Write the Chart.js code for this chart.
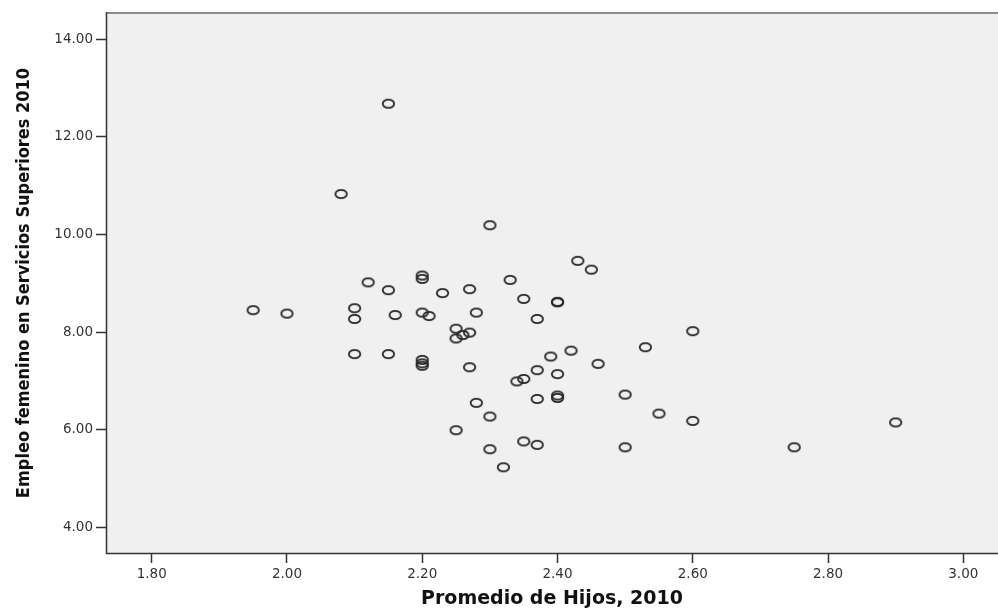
<!DOCTYPE html>
<html>
<head>
<meta charset="utf-8">
<title>Empleo femenino vs Promedio de Hijos</title>
<script src="https://cdn.jsdelivr.net/npm/chart.js@4/dist/chart.umd.min.js"></script>
<style>
    html, body { margin: 0; padding: 0; background: #ffffff; }
    #wrap { width: 998px; height: 612px; position: relative; }
</style>
</head>
<body>
<div id="wrap"><canvas id="scatterChart"></canvas></div>
<script>
// Promedio de Hijos, 2010 (eje X)
const hijos = [
    2.15, 2.08, 2.30, 1.95, 2.00, 2.10, 2.10, 2.12, 2.15, 2.16,
    2.20, 2.20, 2.20, 2.21, 2.23, 2.27, 2.28, 2.25, 2.25, 2.26,
    2.27, 2.10, 2.15, 2.20, 2.20, 2.20, 2.27, 2.33, 2.35, 2.40,
    2.40, 2.37, 2.43, 2.45, 2.34, 2.35, 2.37, 2.39, 2.42, 2.40,
    2.46, 2.53, 2.60, 2.40, 2.40, 2.37, 2.50, 2.28, 2.30, 2.55,
    2.60, 2.25, 2.35, 2.37, 2.30, 2.50, 2.32, 2.75, 2.90
];
// Empleo femenino en Servicios Superiores 2010 (eje Y)
const empleo = [
    12.68, 10.83, 10.19, 8.45, 8.38, 8.49, 8.27, 9.02, 8.86, 8.35,
    9.16, 9.09, 8.40, 8.33, 8.80, 8.88, 8.40, 8.07, 7.87, 7.94,
    7.99, 7.55, 7.55, 7.43, 7.36, 7.31, 7.28, 9.07, 8.68, 8.62,
    8.61, 8.27, 9.46, 9.28, 6.99, 7.04, 7.22, 7.50, 7.62, 7.14,
    7.35, 7.69, 8.02, 6.70, 6.65, 6.63, 6.72, 6.55, 6.27, 6.33,
    6.18, 5.99, 5.76, 5.69, 5.60, 5.64, 5.23, 5.64, 6.15
];
const xTicks = [1.80, 2.00, 2.20, 2.40, 2.60, 2.80, 3.00];
const yTicks = [4.00, 6.00, 8.00, 10.00, 12.00, 14.00];

const xTitle = 'Promedio de Hijos, 2010';
const yTitle = 'Empleo femenino en Servicios Superiores 2010';

// marcador: elipse hueca (como en el gráfico original, algo estirado)
function makeMarker() {
    const c = document.createElement('canvas');
    c.width = 15;
    c.height = 12;
    const g = c.getContext('2d');
    g.strokeStyle = '#262626';
    g.lineWidth = 1.8;
    g.beginPath();
    g.ellipse(7.5, 6, 5.7, 4.2, 0, 0, Math.PI * 2);
    g.stroke();
    return c;
}

// fondo gris del área de trazado y marco
const plotFrame = {
    id: 'plotFrame',
    beforeDraw(chart) {
        const { ctx, chartArea: a } = chart;
        ctx.save();
        ctx.fillStyle = '#ffffff';
        ctx.fillRect(0, 0, chart.width, chart.height);
        ctx.fillStyle = '#f0f0f0';
        ctx.fillRect(a.left, a.top, a.right - a.left, a.bottom - a.top);
        ctx.restore();
    },
    afterDraw(chart) {
        const { ctx, chartArea: a } = chart;
        ctx.save();
        ctx.strokeStyle = '#8c8c8c';
        ctx.lineWidth = 2;
        ctx.beginPath();
        ctx.moveTo(a.left, a.top + 1);
        ctx.lineTo(a.right, a.top + 1);
        ctx.stroke();
        ctx.strokeStyle = '#333333';
        ctx.lineWidth = 1.5;
        ctx.beginPath();
        ctx.moveTo(a.left + 0.5, a.top);
        ctx.lineTo(a.left + 0.5, a.bottom - 0.5);
        ctx.lineTo(a.right, a.bottom - 0.5);
        ctx.stroke();
        ctx.restore();
    }
};

const tickFont = { family: "'DejaVu Sans', sans-serif", size: 13.5 };

document.addEventListener('DOMContentLoaded', function() {
    const ctx = document.getElementById('scatterChart');
    const points = hijos.map((x, i) => ({ x: x, y: empleo[i] }));

    new Chart(ctx, {
        type: 'scatter',
        data: {
            datasets: [{
                label: yTitle,
                data: points,
                pointStyle: makeMarker(),
                pointRadius: 6,
                pointHoverRadius: 6
            }]
        },
        options: {
            responsive: true,
            maintainAspectRatio: false,
            animation: false,
            layout: {
                autoPadding: false, // sin margen extra por el radio de los puntos
                padding: { top: 12, right: 0, bottom: 0, left: 0 }
            },
            plugins: {
                legend: { display: false },
                tooltip: { enabled: false }
            },
            scales: {
                x: {
                    type: 'linear',
                    min: 1.7324,
                    max: 3.0513,
                    afterBuildTicks: s => { s.ticks = xTicks.map(v => ({ value: v })); },
                    afterFit: s => {
                        s.height = 58;
                        s.paddingLeft = 0;
                        s.paddingRight = 0;
                    },
                    border: { display: false },
                    grid: {
                        drawOnChartArea: false,
                        drawTicks: true,
                        tickLength: 9,
                        tickColor: '#333333',
                        tickWidth: 1.5
                    },
                    ticks: {
                        autoSkip: false,
                        maxRotation: 0,
                        padding: 3,
                        color: '#333333',
                        font: tickFont,
                        callback: v => Number(v).toFixed(2)
                    },
                    title: {
                        display: true,
                        text: xTitle,
                        color: '#111111',
                        padding: { top: 0, bottom: 2 },
                        font: { family: "'DejaVu Sans', sans-serif", size: 19, weight: 'bold' }
                    }
                },
                y: {
                    type: 'linear',
                    min: 3.453,
                    max: 14.56,
                    afterBuildTicks: s => { s.ticks = yTicks.map(v => ({ value: v })); },
                    afterFit: s => {
                        s.width = 106;
                        s.paddingTop = 0;
                        s.paddingBottom = 0;
                    },
                    border: { display: false },
                    grid: {
                        drawOnChartArea: false,
                        drawTicks: true,
                        tickLength: 10,
                        tickColor: '#333333',
                        tickWidth: 1.5
                    },
                    ticks: {
                        autoSkip: false,
                        padding: 3,
                        color: '#333333',
                        font: tickFont,
                        callback: v => Number(v).toFixed(2)
                    },
                    title: {
                        display: true,
                        text: yTitle,
                        color: '#111111',
                        padding: { top: 14, bottom: 0 },
                        font: { family: "'Liberation Sans Narrow', 'DejaVu Sans Condensed', Arial, sans-serif", size: 18, weight: 'bold' }
                    }
                }
            }
        },
        plugins: [plotFrame]
    });
});
</script>
</body>
</html>
